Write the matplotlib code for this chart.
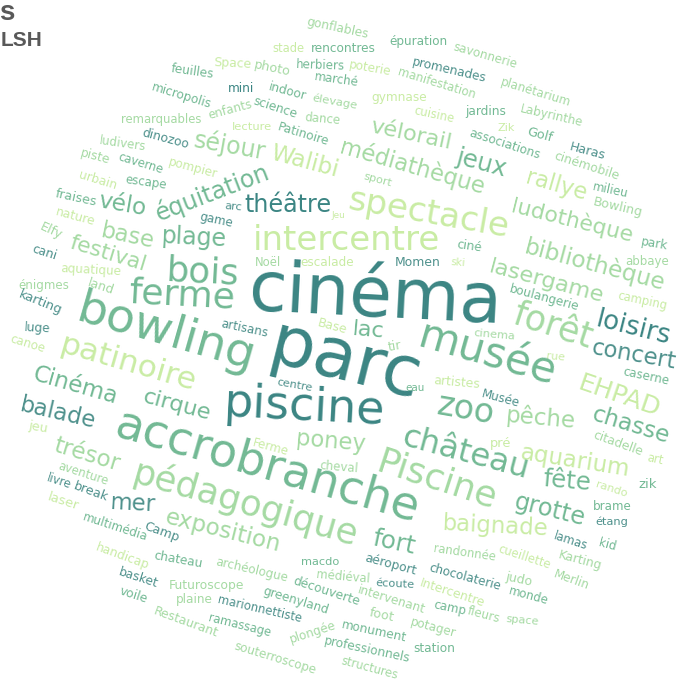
import matplotlib
matplotlib.use("Agg")
import matplotlib.pyplot as plt

# words of the cloud
words = [
    "gonflables", "épuration", "savonnerie", "stade", "rencontres", "promenades",
    "feuilles", "Space", "photo", "herbiers", "poterie", "manifestation",
    "planétarium", "marché", "mini", "micropolis", "indoor", "gymnase",
    "élevage", "enfants", "science", "dance", "cuisine", "jardins",
    "Labyrinthe", "Zik", "Golf", "associations", "Haras", "cinémobile",
    "milieu", "Bowling", "remarquables", "lecture", "Patinoire", "ludivers",
    "dinozoo", "séjour", "Walibi", "vélorail", "médiathèque", "jeux",
    "rallye", "ludothèque", "bibliothèque", "park", "abbaye", "ciné",
    "ski", "lasergame", "boulangerie", "camping", "loisirs", "forêt",
    "concert", "cinema", "rue", "EHPAD", "caserne", "artistes",
    "Musée", "pêche", "chasse", "citadelle", "art", "pré",
    "aquarium", "fête", "rando", "zik", "grotte", "brame",
    "étang", "baignade", "lamas", "kid", "cueillette", "Karting",
    "randonnée", "chocolaterie", "judo", "Merlin", "Intercentre", "monde",
    "camp", "fleurs", "space", "potager", "station", "foot",
    "intervenant", "écoute", "aéroport", "médiéval", "macdo", "découverte",
    "monument", "professionnels", "structures", "souterroscope", "plongée", "ramassage",
    "marionnettiste", "greenyland", "archéologue", "Futuroscope", "plaine", "Restaurant",
    "voile", "basket", "handicap", "chateau", "Camp", "multimédia",
    "laser", "livre", "break", "aventure", "mer", "jeu",
    "trésor", "balade", "cirque", "Cinéma", "exposition", "pédagogique",
    "accrobranche", "Piscine", "château", "zoo", "fort", "poney",
    "Ferme", "cheval", "piscine", "parc", "cinéma", "centre",
    "eau", "artisans", "Base", "lac", "tir", "Noël",
    "escalade", "Momen", "Jeu", "intercentre", "théâtre", "arc",
    "game", "sport", "spectacle", "bois", "plage", "base",
    "festival", "vélo", "équitation", "ferme", "bowling", "patinoire",
    "pompier", "escape", "caverne", "piste", "urbain", "fraises",
    "nature", "Elfy", "cani", "aquatique", "énigmes", "land",
    "karting", "luge", "canoe", "musée",
]

# layout: word centre in px from the top-left corner
pos_x = [
    338, 418, 485, 288, 343, 449,
    193, 232, 272, 320, 370, 437,
    536, 336, 241, 181, 287, 399,
    335, 230, 275, 323, 434, 486,
    552, 506, 540, 505, 587, 587,
    610, 618, 161, 252, 303, 123,
    166, 230, 304, 411, 412, 481,
    556, 572, 595, 654, 647, 469,
    458, 547, 544, 642, 633, 553,
    634, 494, 556, 619, 646, 457,
    501, 541, 631, 618, 655, 501,
    575, 567, 611, 648, 550, 612,
    612, 495, 571, 607, 524, 580,
    465, 465, 519, 571, 452, 529,
    450, 484, 522, 433, 434, 382,
    391, 395, 391, 343, 320, 327,
    374, 367, 370, 275, 313, 240,
    260, 296, 252, 206, 194, 186,
    134, 138, 122, 178, 162, 115,
    63, 59, 91, 83, 133, 38,
    87, 58, 177, 76, 223, 246,
    267, 437, 465, 466, 394, 331,
    271, 339, 305, 345, 375, 295,
    415, 244, 332, 368, 395, 268,
    327, 418, 338, 346, 288, 233,
    216, 378, 428, 203, 194, 128,
    108, 122, 212, 182, 166, 128,
    193, 146, 141, 95, 98, 76,
    75, 51, 44, 91, 44, 101,
    40, 37, 28, 487,
]
pos_y = [
    28, 42, 56, 49, 49, 70,
    72, 64, 68, 65, 68, 83,
    92, 80, 88, 96, 92, 97,
    102, 110, 108, 119, 115, 112,
    116, 128, 135, 144, 151, 166,
    190, 207, 120, 127, 134, 144,
    139, 146, 162, 135, 167, 163,
    186, 221, 265, 244, 262, 246,
    263, 282, 298, 301, 328, 327,
    355, 335, 357, 396, 376, 383,
    399, 418, 425, 444, 459, 444,
    461, 481, 489, 484, 510, 507,
    522, 526, 541, 545, 557, 560,
    553, 577, 579, 580, 593, 596,
    608, 615, 620, 628, 648, 615,
    600, 584, 565, 577, 562, 591,
    631, 650, 668, 658, 632, 625,
    609, 601, 570, 585, 600, 622,
    595, 578, 556, 560, 532, 527,
    502, 482, 492, 474, 504, 427,
    455, 413, 405, 386, 531, 504,
    467, 480, 454, 410, 543, 442,
    447, 467, 408, 362, 297, 385,
    388, 329, 327, 330, 346, 262,
    262, 262, 216, 240, 205, 207,
    220, 180, 214, 272, 238, 236,
    254, 205, 193, 295, 334, 363,
    168, 182, 163, 157, 180, 198,
    217, 231, 253, 270, 286, 287,
    303, 328, 344, 355,
]
# length of each word along its baseline, px
span = [
    65, 60, 68, 33, 67, 78,
    44, 39, 38, 50, 44, 83,
    75, 46, 27, 64, 40, 57,
    47, 46, 47, 37, 42, 42,
    66, 18, 27, 76, 38, 70,
    37, 52, 83, 41, 55, 48,
    50, 75, 72, 85, 155, 53,
    65, 128, 150, 28, 45, 26,
    15, 122, 74, 52, 78, 85,
    88, 43, 19, 88, 48, 48,
    40, 72, 82, 54, 17, 22,
    114, 50, 34, 19, 75, 40,
    34, 110, 36, 18, 56, 46,
    65, 76, 28, 38, 70, 42,
    34, 34, 34, 48, 43, 26,
    72, 40, 55, 55, 40, 72,
    68, 90, 60, 88, 50, 66,
    88, 70, 76, 78, 38, 70,
    30, 42, 58, 51, 38, 70,
    33, 26, 37, 54, 47, 20,
    70, 80, 72, 90, 122, 240,
    325, 128, 135, 60, 45, 72,
    38, 40, 166, 160, 262, 37,
    20, 49, 31, 33, 14, 27,
    55, 47, 14, 193, 90, 18,
    35, 30, 168, 75, 68, 56,
    82, 50, 125, 110, 190, 145,
    52, 43, 48, 31, 40, 43,
    42, 24, 26, 62, 52, 28,
    47, 27, 37, 145,
]
# tilt, degrees clockwise
tilt = [
    12, 0, 16, 0, 0, 13,
    8, 3, 12, 2, 10, 17,
    17, 8, 0, 17, 15, 0,
    10, -15, 18, 5, 12, 0,
    13, 0, 15, 18, 15, 18,
    12, 13, 0, 0, 17, 8,
    15, 10, 15, 12, 16, 15,
    16, 14, 15, 10, 0, 8,
    5, 15, 15, 12, 14, 18,
    10, 5, 5, 19, 12, 5,
    15, 5, 17, 20, 12, 0,
    9, 5, 18, 0, 14, 0,
    0, 3, 18, 15, 18, 15,
    8, 15, 12, 20, 18, 15,
    12, 15, 5, 15, 0, 12,
    17, 3, 15, 5, 0, 18,
    12, 12, 15, 17, -18, 14,
    13, 17, 13, 0, 0, 20,
    18, 18, 20, 10, 20, 18,
    18, 18, 20, 18, 3, 10,
    17, 13, 15, 16, 14, 16,
    16, 18, 15, 10, 12, 5,
    15, 5, 3, 14, 3, 10,
    0, 12, 15, 5, -10, 0,
    0, 0, 0, 0, 0, 5,
    12, 15, 10, 3, 3, 12,
    17, 10, -21, 3, 16, 16,
    15, 8, 17, 15, 17, 12,
    15, 25, 18, 3, 0, 18,
    22, 3, 17, 16,
]
# colour index into the palette
shade = [
    3, 2, 3, 4, 2, 1,
    2, 4, 3, 2, 4, 3,
    3, 2, 0, 2, 2, 4,
    3, 3, 2, 3, 4, 2,
    3, 4, 2, 2, 1, 3,
    2, 3, 3, 4, 2, 3,
    1, 3, 4, 3, 3, 2,
    4, 3, 3, 2, 3, 2,
    4, 3, 2, 4, 0, 3,
    1, 3, 4, 4, 2, 4,
    1, 3, 2, 3, 4, 4,
    4, 2, 4, 2, 2, 2,
    1, 4, 1, 2, 4, 3,
    3, 1, 3, 3, 4, 2,
    2, 3, 3, 3, 2, 3,
    3, 1, 1, 3, 2, 2,
    2, 2, 3, 3, 3, 2,
    1, 2, 3, 3, 3, 3,
    2, 1, 4, 2, 1, 2,
    4, 1, 1, 3, 1, 4,
    3, 1, 2, 2, 3, 3,
    2, 3, 2, 2, 2, 3,
    4, 3, 0, 0, 0, 1,
    2, 1, 4, 2, 3, 3,
    4, 1, 4, 4, 0, 1,
    1, 3, 4, 2, 2, 3,
    3, 2, 2, 2, 2, 4,
    4, 2, 2, 3, 4, 2,
    4, 3, 1, 4, 3, 3,
    1, 1, 4, 2,
]

palette = ["#3b8583", "#4e918c", "#72b994", "#a5daa3", "#c9eca4"]

size = 682
fig = plt.figure(figsize=(6.82, 6.82), dpi=100)
ax = fig.add_axes([0, 0, 1, 1])
ax.set_xlim(0, size)
ax.set_ylim(size, 0)
ax.axis("off")

renderer = fig.canvas.get_renderer()
for word, x, y, L, r, c in zip(words, pos_x, pos_y, span, tilt, shade):
    t = ax.text(x, y, word, fontsize=10, family="DejaVu Sans",
                color=palette[c], ha="center", va="center",
                rotation_mode="anchor")
    w = t.get_window_extent(renderer).width
    # a bit smaller than a full fit: the original font is wider and lower
    t.set_fontsize(0.97 * 10 * L / w)
    t.set_rotation(-r)

# title, cut off by the left edge in the original
ax.text(14, 20, "s", fontsize=20, fontweight="bold", color="#595959",
        family="Liberation Sans", ha="right", va="baseline")
ax.text(42, 46, "LSH", fontsize=15, fontweight="bold", color="#595959",
        family="Liberation Sans", ha="right", va="baseline")

fig.savefig("out.png", dpi=100)
